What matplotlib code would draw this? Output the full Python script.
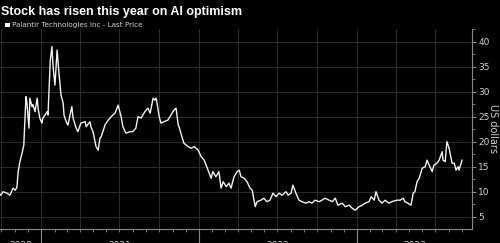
import matplotlib
matplotlib.use("Agg")
import matplotlib.pyplot as plt
import matplotlib.dates as mdates
from matplotlib.ticker import MultipleLocator, FixedLocator, NullFormatter
from matplotlib.patches import Rectangle
import pandas as pd

title = "Stock has risen this year on AI optimism"
series_name = "Palantir Technologies Inc - Last Price"
y_label = "US dollars"
start_date = "2020-09-28"
end_date = "2023-09-24"
year_labels = ["2020", "2021", "2022", "2023"]
y_ticks = [5, 10, 15, 20, 25, 30, 35, 40]

# days since start_date
day_offsets = [0, 2, 7, 16, 23, 30, 35, 39, 42, 46, 51, 55, 60, 62, 67, 69, 74, 76, 81, 86, 88, 92, 97, 99,
               104, 109, 111, 116, 120, 123, 127, 132, 136, 141, 146, 148, 153, 157, 162, 166, 169, 176, 180,
               187, 197, 199, 208, 210, 215, 222, 227, 231, 234, 243, 250, 257, 266, 273, 280, 284, 291, 301,
               307, 314, 319, 326, 335, 342, 347, 354, 358, 361,
               368, 372, 379, 388, 395, 402, 407, 412, 414, 418, 425, 435, 442, 449, 458, 465, 472, 481, 488,
               492, 499, 506, 511, 516, 523, 529, 534, 541,
               548, 553, 557, 564, 571, 578, 583, 590, 594, 603, 610, 617, 624, 631, 638, 645, 652, 661, 666,
               673, 677, 684, 691, 698, 707, 714, 721,
               728, 738, 744, 751, 761, 768, 775, 781, 791, 798, 807, 814, 821, 830, 837, 844, 853, 858, 865,
               869, 876, 883, 890, 899, 906,
               909, 918, 925, 932, 936, 943, 950, 955, 959, 964, 969, 976, 983, 987, 992, 999, 1003, 1010,
               1015, 1022, 1024, 1029, 1033, 1038, 1045, 1050, 1054, 1059, 1061, 1068]
prices = [9.5, 9.3, 10.0, 9.7, 9.3, 10.7, 10.3, 10.8, 14, 16, 17.7, 19.3, 29, 28, 22.7, 28.7, 27, 27.4, 26,
          28.7, 26.7, 24.7, 23.7, 24.7, 25.3, 26, 25.3, 36, 39, 34.7, 31.3, 38.3, 34, 29.3, 27.7, 25.3, 24,
          23.3, 25.3, 27, 24.7, 22.7, 22,
          23.7, 24, 23, 24, 23, 22, 19, 18.3, 20.7, 21, 23.4, 24.3, 25, 25.7, 27.3, 25, 23, 21.7, 22, 22,
          22.7, 25, 24.7, 26, 26.7, 25.7, 28.7, 28.3, 28.7,
          25, 23.7, 24, 24.3, 25.3, 26.3, 26.7, 23.3, 23, 21.7, 19.7, 19, 18.7, 19, 18.3, 17, 16.3, 14.3,
          12.7, 14, 13, 14, 10.7, 12, 11, 11.7, 10.7, 13,
          14, 14.3, 13, 12.7, 12, 10.7, 10.3, 7, 8, 8.3, 8.7, 8, 8.3, 9.7, 9, 9.7, 9.3, 10, 9.3, 9.7, 11.3,
          9.7, 8.3, 8, 7.7, 8, 7.7,
          8.3, 8, 8.3, 8.7, 8.3, 8, 8.7, 7.3, 7.7, 7, 7.3, 6.7, 6.3, 7, 7.3, 7.7, 8, 9, 8.3, 10, 8.3, 7.7,
          8.3, 7.7, 8,
          8.1, 8.3, 8.3, 8.7, 8, 7.7, 7.3, 9.7, 10, 12, 12.7, 14.7, 15, 16.3, 15.3, 14, 15.3, 15.7, 16.3,
          18, 16.3, 16, 20, 18.7, 15.7, 15.7, 14.3, 15, 14.3, 16.3]

dates = pd.to_datetime(start_date) + pd.to_timedelta(day_offsets, unit="D")

bg = "black"
grid_c = "#2c2c2c"
axis_c = "#8a8a8a"
text_c = "#d0d0d0"

fig = plt.figure(figsize=(5.0, 2.43), dpi=100, facecolor=bg)
ax = fig.add_axes([0.0, 0.0576, 0.944, 0.8235])
ax.set_facecolor(bg)
ax.plot(dates, prices, color="#f2f2f2", lw=1.0)

x0 = pd.Timestamp(start_date)
x1 = pd.Timestamp(end_date)
ax.set_xlim(x0, x1)
ax.set_ylim(2.54, 42.54)

# y axis on right
ax.yaxis.tick_right()
ax.yaxis.set_label_position("right")
ax.yaxis.set_major_locator(FixedLocator(y_ticks))
ax.yaxis.set_minor_locator(MultipleLocator(2.5))
ax.tick_params(axis="y", which="major", colors=axis_c, labelcolor=text_c, labelsize=6.5,
               length=3, width=0.8, pad=1.5)
ax.tick_params(axis="y", which="minor", colors=axis_c, length=2, width=0.6)
ax.set_ylabel(y_label, color=text_c, fontsize=7, rotation=270, labelpad=6)

# x axis: year ticks long, month ticks short, quarterly grid
years = [pd.Timestamp("2021-01-01"), pd.Timestamp("2022-01-01"), pd.Timestamp("2023-01-01")]
ax.xaxis.set_major_locator(FixedLocator(mdates.date2num(years)))
ax.xaxis.set_major_formatter(NullFormatter())
ax.xaxis.set_minor_locator(mdates.MonthLocator())
ax.tick_params(axis="x", which="major", colors=axis_c, length=11, width=0.8)
ax.tick_params(axis="x", which="minor", colors=axis_c, length=2.5, width=0.6)

bounds = [x0] + years + [x1]
for i, lab in enumerate(year_labels):
    mid = bounds[i] + (bounds[i + 1] - bounds[i]) / 2
    ax.text(mdates.date2num(mid), -0.058, lab, transform=ax.get_xaxis_transform(),
            ha="center", va="top", color=text_c, fontsize=6.5)

# grid
for q in pd.date_range("2020-10-01", "2023-09-01", freq="QS"):
    ax.axvline(q, color=grid_c, lw=0.7, zorder=0)
for yv in y_ticks:
    ax.axhline(yv, color=grid_c, lw=0.7, zorder=0)

for s in ["left", "top"]:
    ax.spines[s].set_visible(False)
for s in ["right", "bottom"]:
    ax.spines[s].set_color(axis_c)
    ax.spines[s].set_linewidth(0.8)

fig.text(0.002, 0.975, title, color="white", fontsize=9, fontweight="bold",
         ha="left", va="top", family="Liberation Sans")
fig.patches.append(Rectangle((0.010, 0.888), 0.009, 0.018, transform=fig.transFigure,
                             facecolor="white", edgecolor="none"))
fig.text(0.023, 0.898, series_name, color=text_c, fontsize=5.2, ha="left", va="center")

fig.savefig("out.png", dpi=100, facecolor=bg)
